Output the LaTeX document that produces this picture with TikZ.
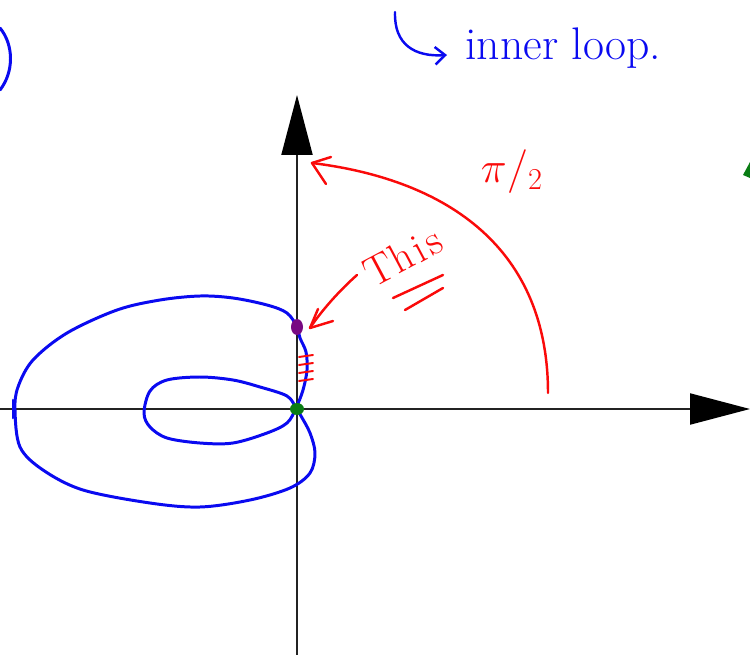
\documentclass[tikz,border=0pt]{standalone}
\usepackage{xcolor}
\usepackage{amsmath}
\usepackage{tikz}
\usetikzlibrary{arrows.meta, positioning, calc}
\definecolor{penblue}{RGB}{10,10,240}
\definecolor{penred}{RGB}{250,10,10}
\definecolor{penpurple}{RGB}{120,10,130}
\definecolor{pengreen}{RGB}{10,125,20}
\definecolor{axisgray}{RGB}{35,35,35}
\tikzset{
  axis/.style={line width=1.2pt, color=axisgray},
  axistip/.style={-{Triangle[length=1.2cm, width=0.62cm, color=black]}},
  bluepen/.style={line width=1.7pt, color=penblue, line cap=round, line join=round},
  redpen/.style={line width=1.4pt, color=penred, line cap=round, line join=round},
  handtext/.style={inner sep=0pt, font=\fontsize{26}{30}\selectfont}
}

\begin{document}
\begin{tikzpicture}[x=0.02cm, y=-0.02cm]
  \useasboundingbox (0,0) rectangle (750,655);
  % axes
  \coordinate (O) at (297,409);
  \coordinate (ybot) at (297,655);
  \coordinate (ytop) at (297,95);
  \coordinate (xleft) at (0,409);
  \coordinate (xright) at (750,409);
  \draw[axis, axistip] (ybot) -- (ytop);
  \draw[axis, axistip] (xleft) -- (xright);

  % limacon with inner loop
  \draw[bluepen] plot[smooth cycle, tension=0.55] coordinates {
    (296,408) (303,390) (307,370) (306,352) (300,338) (297,327) (287,313)
    (267,305) (233,298) (200,296) (160,300) (117,310) (67,333) (33,360)
    (18,387) (15,410) (20,447) (43,470) (83,490) (150,503) (200,507)
    (250,500) (290,488) (310,473) (315,453) (310,433) (301,416)
    (296,408) (287,396) (260,387) (233,380) (200,377) (167,380) (150,391)
    (144,413) (150,427) (167,438) (200,443) (233,443) (267,433) (287,423)};
  \draw[bluepen] (13,400) -- (13,418);

  % shading between the curve and the axis
  \foreach \yy in {357,365,373,381}
    \draw[redpen, line width=1.1pt] (299,\yy) -- (313,\yy-2);

  % marked points
  \coordinate (P) at (297,327);
  \fill[penpurple] (P) ellipse [x radius=6, y radius=8];
  \fill[pengreen] (O) ellipse [x radius=7, y radius=6];

  % quarter turn
  \coordinate (arcstart) at (548,393);
  \coordinate (arcend) at (312,163);
  \draw[redpen] (arcstart) .. controls (548,250) and (450,180) .. (arcend);
  \draw[redpen] (331,157) -- (arcend) -- (326,184);
  \node[handtext, text=penred] (lblpi) at (512,172) {$\pi/_{2}$};

  % this one
  \node[handtext, text=penred, rotate=28, font=\fontsize{24}{28}\selectfont]
    (lblthis) at (403,256) {Th\kern2pt i\kern2pt s};
  \draw[redpen] (393,298) -- (443,275);
  \draw[redpen] (405,310) -- (443,288);
  \coordinate (thisend) at (310,328);
  \draw[redpen] (357,275) .. controls (340,290) and (322,310) .. (thisend);
  \draw[redpen] (318,309) -- (thisend) -- (333,321);

  % inner loop note
  \coordinate (hookstart) at (395,12);
  \coordinate (hookend) at (447,55);
  \draw[bluepen, line width=1.4pt, -{Straight Barb[length=0.2cm, width=0.35cm]}]
    (hookstart) .. controls (394,45) and (415,57) .. (hookend);
  \node[handtext, text=penblue, anchor=west] (lblinner) at (465,48) {inner loop.};
  \draw[bluepen] (0,28) .. controls (14,45) and (14,72) .. (0,90);
  \fill[pengreen] (743,175) -- (750,162) -- (750,178) -- cycle;
\end{tikzpicture}
\end{document}
